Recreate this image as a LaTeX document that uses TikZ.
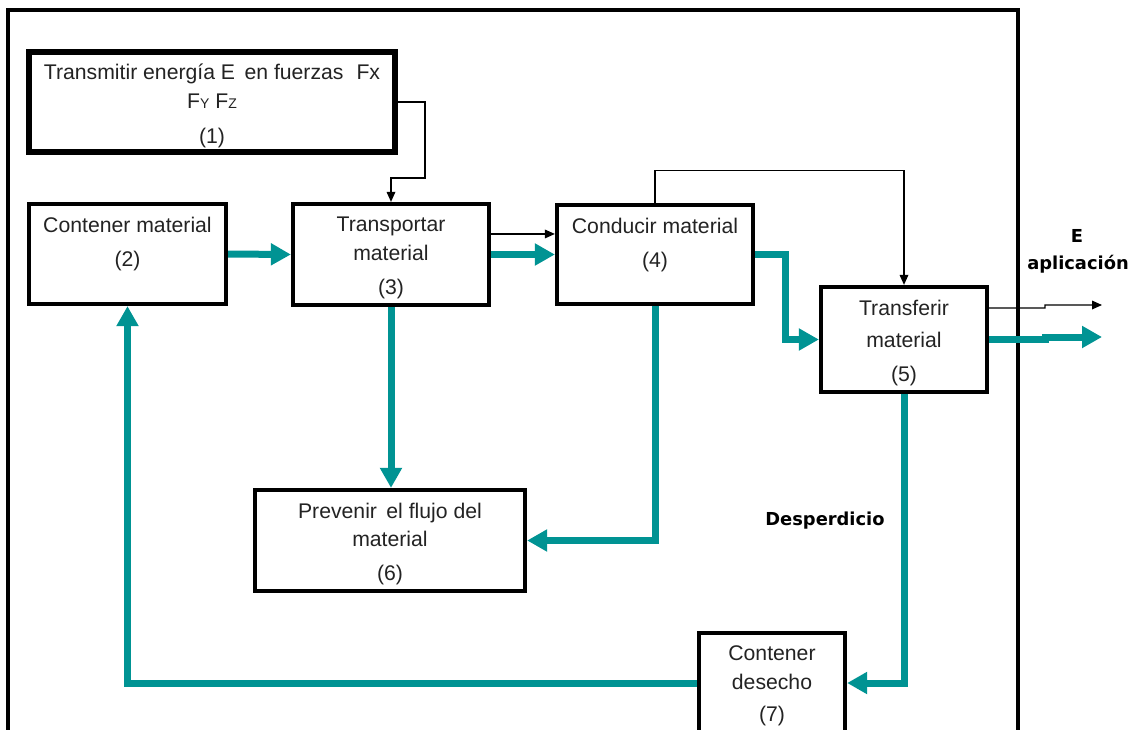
\documentclass[tikz,border=0pt]{standalone}
\usepackage{fontspec}
\setmainfont{Liberation Sans}
\newfontfamily\lblfont{DejaVu Sans}
\usetikzlibrary{arrows.meta}
\definecolor{tealflow}{RGB}{0,147,147}
\definecolor{txtgray}{RGB}{35,35,35}
\tikzset{
  fbox/.style={draw=black, line width=3.2pt, fill=white, inner sep=0pt, minimum width=#1},
  fbox/.default=100pt,
  btext/.style={anchor=north, inner sep=0pt, align=center, text=txtgray,
    font=\fontsize{15.9}{21.6}\selectfont},
  flow/.style={draw=tealflow, line width=5.25pt, -{Triangle[length=15pt,width=15.75pt]}},
  sig/.style={draw=black, line width=0.9pt, -{Triangle[length=7.5pt,width=6.5pt]}},
  blbl/.style={inner sep=0pt, font=\lblfont\bfseries\fontsize{13.4}{15}\selectfont}
}
\newcommand\smc[1]{{\fontsize{10.5}{10.5}\selectfont #1}}
\begin{document}
\begin{tikzpicture}[x=0.75pt, y=-0.75pt]
\useasboundingbox (0,0) rectangle (1136,729);
\clip (0,0) rectangle (1136,729);
\fill[white] (0,0) rectangle (1136,729);
% outer frame
\draw[line width=3pt] (8,760) -- (8,10) -- (1018,10) -- (1018,760);
% boxes
\node[fbox=366*0.75pt, minimum height=100*0.75pt, line width=4pt] (b1) at (212,102) {};
\node[fbox=197*0.75pt, minimum height=100*0.75pt] (b2) at (127.5,254) {};
\node[fbox=196*0.75pt, minimum height=101*0.75pt] (b3) at (391,254.5) {};
\node[fbox=196*0.75pt, minimum height=99*0.75pt] (b4) at (655,254.5) {};
\node[fbox=166*0.75pt, minimum height=105*0.75pt] (b5) at (904,339.5) {};
\node[fbox=270*0.75pt, minimum height=101*0.75pt] (b6) at (390,540.5) {};
\node[fbox=146*0.75pt, minimum height=112*0.75pt] (b7) at (772,689) {};
% box texts
\node[btext] (t1) at ([yshift=-11pt]b1.north) {Transmitir energía E\, en fuerzas\,\, Fx\\F\smc{Y} F\smc{Z}\\[4.5pt](1)};
\node[btext] (t2) at ([yshift=-11pt]b2.north) {Contener material\\[3.8pt](2)};
\node[btext] (t3) at ([yshift=-11pt]b3.north) {Transportar\\material\\[3.8pt](3)};
\node[btext] (t4) at ([yshift=-11pt]b4.north) {Conducir material\\[3.8pt](4)};
\node[btext] (t5) at ([yshift=-11pt]b5.north) {Transferir\\[2.5pt]material\\[3.8pt](5)};
\node[btext] (t6) at ([yshift=-11pt]b6.north) {Prevenir\, el flujo del\\material\\[3.8pt](6)};
\node[btext] (t7) at ([yshift=-11pt]b7.north) {Contener\\desecho\\[2.5pt](7)};
% free labels
\node[blbl] (lE) at (1077,236) {E};
\node[blbl] (lapl) at (1078,264) {aplicación};
\node[blbl] (ldes) at (825,521) {Desperdicio};
% free ends
\coordinate (o1) at (1102,305);
\coordinate (o2) at (1102,337);
% thin signal connectors
\draw[sig] (b1.east) -| (425,178) -| (b3.north);
\draw[sig] ([yshift=15.4pt]b3.east) -- ([yshift=15.4pt]b4.west);
\draw[sig] (b4.north) -- ++(0,-32) -| (b5.north);
\draw[sig] ([yshift=23.6pt]b5.east) -- (1045,308) -- (1045,305) -- (o1);
% teal flows
\draw[flow] (b2.east) -- (b3.west);
\draw[flow] (b3.east) -- (b4.west);
\draw[flow] (b3.south) -- (b3.south |- b6.north);
\draw[flow] (b4.south) |- (b6.east);
\draw[flow] (b4.east) -- ++(30,0) |- (b5.west);
\draw[flow] (b5.east) -- (1045,339.5) -- (1045,337) -- (o2);
\draw[flow] (b5.south) |- ([yshift=4.5pt]b7.east);
\draw[flow] ([yshift=4.5pt]b7.west) -| (b2.south);
\end{tikzpicture}
\end{document}
